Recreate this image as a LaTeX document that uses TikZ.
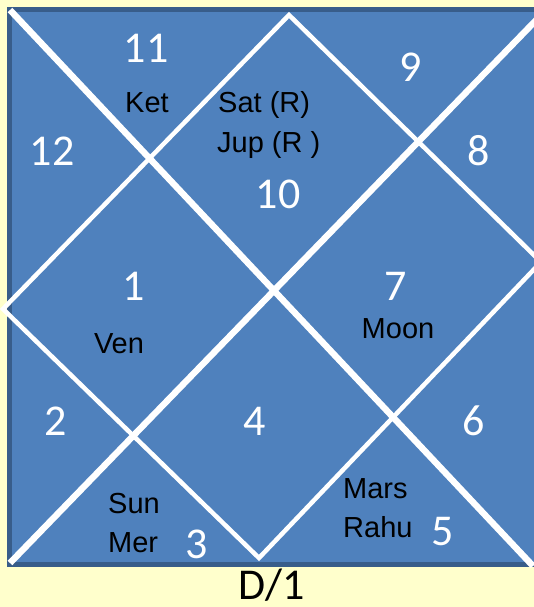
\documentclass[tikz,border=0pt]{standalone}
\usepackage{fontspec}
\setmainfont{Carlito}
\newfontfamily\planetfont{Liberation Sans}
\usetikzlibrary{calc}

\definecolor{chartbg}{HTML}{FFFFCC}
\definecolor{chartblue}{HTML}{4F81BD}
\definecolor{chartedge}{HTML}{385D8A}

\begin{document}
\begin{tikzpicture}[x=1pt,y=-1pt,
        house/.style={text=white,font=\fontsize{44}{44}\selectfont,anchor=base,inner sep=0pt},
        planet/.style={text=black,font=\planetfont\fontsize{29}{29}\selectfont,anchor=base,inner sep=0pt},
        planetl/.style={planet,anchor=base west}]

        % Page
        \fill[chartbg] (0,0) rectangle (534,607);
        \useasboundingbox (0,0) rectangle (534,607);
        \clip (0,0) rectangle (534,607);

        % Chart corners
        \coordinate (tl) at (10,10);
        \coordinate (tr) at (544,12);
        \coordinate (bl) at (10,563);
        \coordinate (br) at (533,566);

        % Diamond vertices
        \coordinate (top) at (289,15);
        \coordinate (right) at (541,262);
        \coordinate (bot) at (259,558);
        \coordinate (left) at (3,309);

        % Chart square
        \filldraw[fill=chartblue,draw=chartedge,line width=5pt]
            (9.5,9.5) rectangle (560,564.5);

        % Diagonals
        \draw[white,line width=6.4pt] (tl) -- (br);
        \draw[white,line width=6.4pt] (bl) -- (tr);

        % Inner diamond
        \draw[white,line width=4.5pt]
            (top) -- (right) -- (bot) -- (left) -- cycle;

        % House numbers
        \foreach \h/\x/\y in {1/134/300,2/56/435,3/197/558,4/255/435,
                              5/443/545,6/474/435,7/396/300,8/479/165,
                              9/411/82,10/278/208,11/146/63,12/52/165} {
            \node[house] (h\h) at (\x,\y) {\h};
        }

        % Planets
        \node[planet] (ket) at (147,113) {Ket};
        \node[planetl] (sat) at (218,113) {Sat (R)};
        \node[planetl] (jup) at (217,152) {Jup (R )};
        \node[planet] (ven) at (119,353) {Ven};
        \node[planet] (moon) at (398,338) {Moon};
        \node[planetl] (sun) at (108,513) {Sun};
        \node[planetl] (mer) at (108,552) {Mer};
        \node[planetl] (mars) at (343,498) {Mars};
        \node[planetl] (rahu) at (343,537) {Rahu};

        % Chart title
        \node[house,text=black] (title) at (272,599) {D/1};

    \end{tikzpicture}
\end{document}
